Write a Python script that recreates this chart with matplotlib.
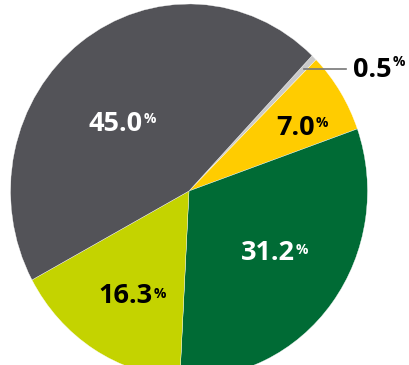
import matplotlib
matplotlib.use("Agg")
import matplotlib.pyplot as plt

# Data
values = [0.5, 7.0, 31.2, 16.3, 45.0]
labels = ["0.5", "7.0", "31.2", "16.3", "45.0"]
colors = ["#C9C9C9", "#FFCC00", "#006B35", "#C4D300", "#535358"]
text_colors = ["black", "black", "white", "black", "white"]

W, H = 409, 365
fig = plt.figure(figsize=(W / 100, H / 100), dpi=100)
ax = fig.add_axes([0, 0, 1, 1])

cx, cy, RX, RY = 189.0, 191.0, 178.5, 187.0

def px(x, y):
    return ((x - cx) / RX, (cy - y) / RY)

ax.pie(values, colors=colors, startangle=46.4, counterclock=False,
       radius=1.0, center=(0, 0),
       wedgeprops=dict(edgecolor="white", linewidth=0.25))

x0, y0 = px(0, H)
x1, y1 = px(W, 0)
ax.set_aspect("auto")
ax.set_xlim(x0, x1)
ax.set_ylim(y0, y1)
ax.axis("off")

# label positions (pixel coordinates: number right edge, baseline, percent top)
label_pos = [(392, 77, 55), (315, 135, 116), (295, 260, 243), (153, 303, 287), (143, 131, 112)]
fam = ["Open Sans", "DejaVu Sans"]
for lab, (xr, yb, yt), tc in zip(labels, label_pos, text_colors):
    ax.text(*px(xr, yb), lab, ha="right", va="baseline", fontsize=19.5,
            fontweight="bold", color=tc, family=fam)
    ax.text(*px(xr + 0.5, yt), "%", ha="left", va="top", fontsize=10,
            fontweight="bold", color=tc, family=fam)

# leader line for small slice
ax.plot(*zip(px(304, 69), px(346, 69)), color="#777777", linewidth=1.2)

fig.savefig("out.png", dpi=100)
